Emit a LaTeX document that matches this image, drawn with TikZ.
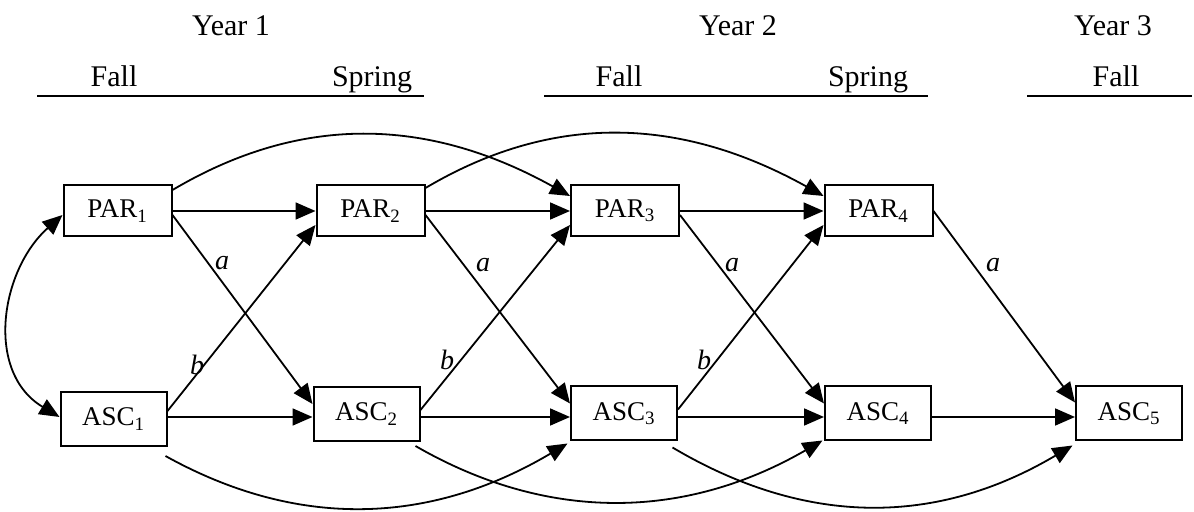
\documentclass[tikz,border=0pt]{standalone}
\usepackage{fontspec}
\setmainfont{Liberation Serif}
\usetikzlibrary{arrows.meta}
\begin{document}
\begin{tikzpicture}[x=0.5pt,y=-0.5pt,
  >={Triangle[length=10pt,width=8.5pt]},
  parbox/.style={draw,line width=1pt,minimum width=54pt,minimum height=25.5pt,inner sep=0pt,font=\fontsize{13.5}{15}\selectfont},
  ascbox/.style={draw,line width=1pt,minimum width=53pt,minimum height=27pt,inner sep=0pt,font=\fontsize{13.5}{15}\selectfont},
  arr/.style={line width=0.9pt,->},
  hdr/.style={font=\fontsize{15}{18}\selectfont,anchor=base,inner sep=0pt},
  rule/.style={line width=1pt},
  lbl/.style={font=\fontsize{14}{16}\selectfont\itshape,inner sep=0pt}]
\useasboundingbox (0,0) rectangle (1194,512);

% headers
\node[hdr] (y1) at (231,36) {Year 1};
\node[hdr] (y2) at (738,36) {Year 2};
\node[hdr] (y3) at (1113,36) {Year 3};
\node[hdr] (f1) at (114,87) {Fall};
\node[hdr] (s1) at (372,87) {Spring};
\node[hdr] (f2) at (619,87) {Fall};
\node[hdr] (s2) at (868,87) {Spring};
\node[hdr] (f3) at (1116,87) {Fall};
\draw[rule] (37,96) -- (424,96);
\draw[rule] (544,96) -- (928,96);
\draw[rule] (1027,96) -- (1192,96);

% boxes
\node[parbox] (PAR1) at (117.5,211) {PAR\textsubscript{1}};
\node[parbox] (PAR2) at (370.5,211) {PAR\textsubscript{2}};
\node[parbox] (PAR3) at (625,211) {PAR\textsubscript{3}};
\node[parbox] (PAR4) at (878.5,211) {PAR\textsubscript{4}};
\node[ascbox] (ASC1) at (113.5,419) {ASC\textsubscript{1}};
\node[ascbox] (ASC2) at (366.5,414) {ASC\textsubscript{2}};
\node[ascbox] (ASC3) at (624,413.5) {ASC\textsubscript{3}};
\node[ascbox] (ASC4) at (878,413.5) {ASC\textsubscript{4}};
\node[ascbox] (ASC5) at (1129,413.5) {ASC\textsubscript{5}};

% horizontal PAR arrows
\draw[arr] (PAR1.east) -- (PAR2.west);
\draw[arr] (PAR2.east) -- (PAR3.west);
\draw[arr] (PAR3.east) -- (PAR4.west);

% horizontal ASC arrows
\draw[arr] ([yshift=1pt]ASC1.east) -- ([yshift=-1.5pt]ASC2.west);
\draw[arr] ([yshift=-1.5pt]ASC2.east) -- ([yshift=-1.75pt]ASC3.west);
\draw[arr] ([yshift=-1.75pt]ASC3.east) -- ([yshift=-1.75pt]ASC4.west);
\draw[arr] ([yshift=-1.75pt]ASC4.east) -- ([yshift=-1.75pt]ASC5.west);

% a paths
\draw[arr] ([yshift=-2pt]PAR1.east) -- ([yshift=5pt]ASC2.west);
\draw[arr] ([yshift=-2pt]PAR2.east) -- ([yshift=5pt]ASC3.west);
\draw[arr] ([yshift=-2pt]PAR3.east) -- ([yshift=5pt]ASC4.west);
\draw[arr] (PAR4.east) -- ([yshift=5.5pt]ASC5.west);

% b paths
\draw[arr] ([yshift=4pt]ASC1.east) -- ([yshift=-7pt]PAR2.west);
\draw[arr] ([yshift=2pt]ASC2.east) -- ([yshift=-7pt]PAR3.west);
\draw[arr] ([yshift=2pt]ASC3.east) -- ([yshift=-7pt]PAR4.west);

% labels
\node[lbl] (a1) at (222,263) {a};
\node[lbl] (a2) at (483,265) {a};
\node[lbl] (a3) at (732,265) {a};
\node[lbl] (a4) at (993,265) {a};
\node[lbl] (b1) at (197,365) {b};
\node[lbl] (b2) at (447,360) {b};
\node[lbl] (b3) at (704,360) {b};

% top arcs
\draw[arr] ([yshift=10.5pt]PAR1.east) .. controls +(135,-80) and +(-135,-75) .. ([yshift=7.5pt]PAR3.west);
\draw[arr] ([yshift=11.5pt]PAR2.east) .. controls +(135,-80) and +(-135,-75) .. ([yshift=7.5pt]PAR4.west);

% bottom arcs
\draw[arr] ([xshift=-1pt,yshift=-4.5pt]ASC1.south east) .. controls +(135,75) and +(-135,80) .. ([xshift=-1.25pt,yshift=-1pt]ASC3.south west);
\draw[arr] ([xshift=-2.5pt,yshift=-2pt]ASC2.south east) .. controls +(135,78) and +(-135,78) .. ([xshift=-0.75pt,yshift=0.5pt]ASC4.south west);
\draw[arr] ([xshift=-2.75pt,yshift=-3pt]ASC3.south east) .. controls +(135,80) and +(-135,80) .. ([xshift=-1.25pt,yshift=-2pt]ASC5.south west);

% correlation
\draw[line width=0.9pt,<->] ([yshift=-2pt]PAR1.west) .. controls +(-62,55) and +(-75,-45) .. ([yshift=1pt]ASC1.west);
\end{tikzpicture}
\end{document}
